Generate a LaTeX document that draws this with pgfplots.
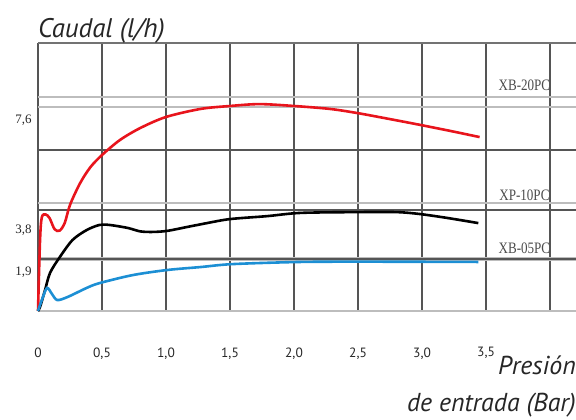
\documentclass[border=0pt]{standalone}
\usepackage{pgfplots}
\pgfplotsset{compat=1.18}
\usepackage{fontspec}
\setmainfont{PT Sans}
\newfontfamily\serif{Liberation Serif}

\definecolor{redc}{HTML}{E8141C}
\definecolor{bluec}{HTML}{1C8FD4}
\definecolor{gridd}{HTML}{555555}
\definecolor{gridl}{HTML}{BDBDBD}

\begin{document}
\begin{tikzpicture}
\useasboundingbox (-38bp,-109bp) rectangle (538bp,311bp);
\begin{axis}[
    width=538bp, height=268bp, scale only axis,
    xmin=0, xmax=4.203, ymin=0, ymax=10,
    axis line style={draw=none},
    xtick={0,0.5,...,4},
    xticklabels={0,{0,5},{1,0},{1,5},{2,0},{2,5},{3,0},{3,5},{}},
    xticklabel style={font=\fontsize{13.5}{13.5}\selectfont, text=black!85, yshift=-33bp},
    ytick={1.46,3.02,7.13},
    yticklabels={{1,9},{3,8},{7,6}},
    yticklabel style={font=\serif\fontsize{13}{13}\selectfont, text=black!85, xshift=-3bp},
    major tick length=0pt,
    xmajorgrids, ymajorgrids=false,
    x grid style={gridd, line width=1.4bp},
    clip=false,
]
% horizontal rules of the chart
\draw[gridl, line width=2.4bp] (axis cs:0,0) -- (axis cs:4.203,0);
\draw[gridl, line width=3.2bp] (axis cs:0,1.94) -- (axis cs:4.203,1.94);
\draw[gridd, line width=2bp] (axis cs:0,1.94) -- (axis cs:4.203,1.94);
\draw[gridd, line width=1.5bp] (axis cs:0,3.77) -- (axis cs:4.203,3.77);
\draw[gridl, line width=2bp] (axis cs:0,4.03) -- (axis cs:4.203,4.03);
\draw[gridd, line width=1.5bp] (axis cs:0,6) -- (axis cs:4.203,6);
\draw[gridl, line width=2bp] (axis cs:0,7.61) -- (axis cs:4.203,7.61);
\draw[gridl, line width=2bp] (axis cs:0,8) -- (axis cs:4.203,8);
\draw[black!55, line width=2bp] (axis cs:0,10) -- (axis cs:4.203,10);

% XB-20PC
\addplot[redc, line width=2.6bp, smooth, tension=0.5] coordinates {
 (0,0) (0.016,2.65) (0.03,3.5) (0.06,3.6) (0.09,3.47) (0.13,3.05) (0.17,3.0)
 (0.21,3.3) (0.25,3.96) (0.33,4.78) (0.41,5.37) (0.5,5.82) (0.64,6.38)
 (0.80,6.83) (1.0,7.24) (1.27,7.54) (1.5,7.65) (1.73,7.72) (2.0,7.65)
 (2.28,7.54) (2.49,7.39) (2.75,7.16) (2.99,6.94) (3.22,6.72) (3.45,6.49)};
% XP-10PC
\addplot[black, line width=2.6bp, smooth, tension=0.5] coordinates {
 (0,0) (0.016,0.15) (0.055,0.78) (0.094,1.42) (0.17,2.01) (0.27,2.65)
 (0.38,3.02) (0.48,3.21) (0.56,3.21) (0.70,3.10) (0.80,2.97) (0.90,2.95)
 (1.01,2.99) (1.16,3.13) (1.32,3.28) (1.5,3.43) (1.79,3.54) (2.05,3.66)
 (2.49,3.69) (2.80,3.69) (2.98,3.62) (3.20,3.47) (3.44,3.28)};
% XB-05PC
\addplot[bluec, line width=2.6bp, smooth, tension=0.5] coordinates {
 (0,0) (0.03,0.41) (0.07,0.86) (0.11,0.63) (0.15,0.41) (0.23,0.52)
 (0.38,0.86) (0.48,1.04) (0.74,1.34) (1.01,1.53) (1.27,1.64) (1.52,1.75)
 (2.05,1.83) (2.6,1.84) (3.44,1.83)};

\node[font=\serif\fontsize{16}{16}\selectfont, text=black!70, xscale=0.82] at (axis cs:3.80,8.43) {XB-20PC};
\node[font=\serif\fontsize{16}{16}\selectfont, text=black!70, xscale=0.82] at (axis cs:3.80,4.33) {XP-10PC};
\node[font=\serif\fontsize{16}{16}\selectfont, text=black!70, xscale=0.82] at (axis cs:3.80,2.35) {XB-05PC};
\end{axis}
\node[anchor=base west, inner sep=0pt, font=\itshape\fontsize{27}{27}\selectfont, text=black!85] at (0bp,273bp) {Caudal (l/h)};
\node[anchor=east, inner sep=0pt, font=\itshape\fontsize{26}{26}\selectfont, text=black!85] at (538bp,-54bp) {Presión};
\node[anchor=east, inner sep=0pt, font=\itshape\fontsize{26}{26}\selectfont, text=black!85] at (538bp,-94bp) {de entrada (Bar)};
\end{tikzpicture}
\end{document}
